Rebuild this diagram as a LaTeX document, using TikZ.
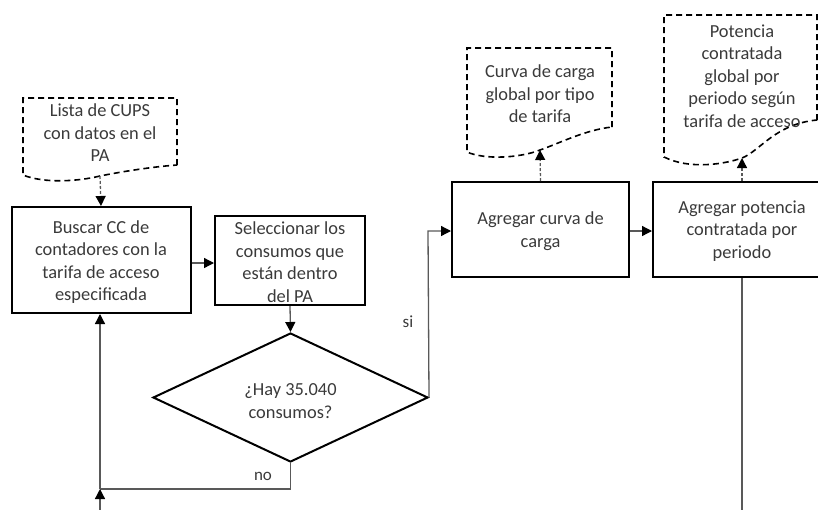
\documentclass[tikz,border=0pt]{standalone}
\usepackage{fontspec}
\setmainfont{Carlito}
\usetikzlibrary{arrows.meta,shapes.geometric}
\definecolor{txt}{HTML}{3A3A3A}
\definecolor{conn}{HTML}{595959}
\begin{document}
\begin{tikzpicture}[x=1pt,y=-1pt,
  every node/.style={font=\fontsize{18.4}{22.5}\selectfont, text=txt, align=center, inner sep=0pt},
  procbox/.style={draw=black, line width=2pt, minimum width=#1},
  docline/.style={draw=black, line width=1.6pt, dash pattern=on 6pt off 4pt},
  conline/.style={draw=conn, line width=1.3pt},
  arr/.style={conline, -{Triangle[length=10pt,width=10pt,color=black]}},
  darr/.style={arr, dash pattern=on 3pt off 2pt},
  lbl/.style={font=\fontsize{17}{20}\selectfont}
]
\useasboundingbox (0,0) rectangle (818,509);
\clip (0,0) rectangle (818,509);

% document shapes
\draw[docline] (177,165) -- (177,98) -- (23,98) -- (23,175)
  .. controls (45,184) and (80,181) .. (100,176) coordinate (d1b)
  .. controls (120,172) and (150,167) .. (177,165);
\node (d1) at (100,133) {Lista de CUPS\\con datos en el\\PA};

\draw[docline] (612,127) -- (612,48) -- (467,48) -- (467,152)
  .. controls (485,160) and (520,158) .. (540,150) coordinate (d3b)
  .. controls (560,143) and (585,130) .. (612,127);
\node (d3) at (540,94) {Curva de carga\\global por tipo\\de tarifa};

\draw[docline] (817,120) -- (817,15) -- (664,15) -- (664,157)
  .. controls (690,170) and (725,164) .. (742,158) coordinate (d4b)
  .. controls (760,151) and (775,124) .. (817,120);
\node (d4) at (742,76) {Potencia\\contratada\\global por\\periodo según\\tarifa de acceso};

% process boxes
\node[procbox=179pt, minimum height=106pt] (b1) at (101,260) {};
\node (b1t) at (101,262) {Buscar CC de\\contadores con la\\tarifa de acceso\\especificada};
\node[procbox=150pt, minimum height=89pt] (b2) at (290,260.5) {};
\node (b2t) at (290,262) {Seleccionar los\\consumos que\\están dentro\\del PA};
\node[procbox=177pt, minimum height=95pt] (b3) at (540.5,229.5) {};
\node (b3t) at (540.5,231) {Agregar curva de\\carga};
\node[procbox=178pt, minimum height=95pt] (b4) at (742,229.5) {};
\node (b4t) at (742,231) {Agregar potencia\\contratada por\\periodo};

% decision
\node[draw=black, line width=2pt, diamond, aspect=2.13, minimum width=275pt, minimum height=129pt, inner sep=0pt] (dec) at (290.5,397.5) {};
\node (dectxt) at (290.5,401) {¿Hay 35.040\\consumos?};

% connectors
\draw[darr] (d1b) -- (b1.north);
\draw[arr] (b1.east |- 0,263) -- (b2.west |- 0,263);
\draw[arr] (b2.south) -- (dec.north);
\coordinate (s1) at (428,231);
\draw[arr] (dec.east) -- (s1) -- (b3.west |- s1);
\node[lbl] (si) at (408,322) {si};
\coordinate (n1) at (290.5,489);
\coordinate (j1) at (100,489);
\coordinate (bot) at (100,512);
\draw[conline] (dec.south) -- (n1) -- (j1);
\draw[arr] (bot) -- (j1);
\draw[arr] (j1) -- (b1.south -| j1);
\node[lbl] (no) at (263,476) {no};
\draw[arr] (b3.east |- 0,231) -- (b4.west |- 0,231);
\draw[darr] (b3.north) -- (d3b);
\draw[darr] (b4.north) -- (d4b);
\coordinate (bot4) at (742,512);
\draw[conline] (b4.south) -- (bot4);
\end{tikzpicture}
\end{document}
